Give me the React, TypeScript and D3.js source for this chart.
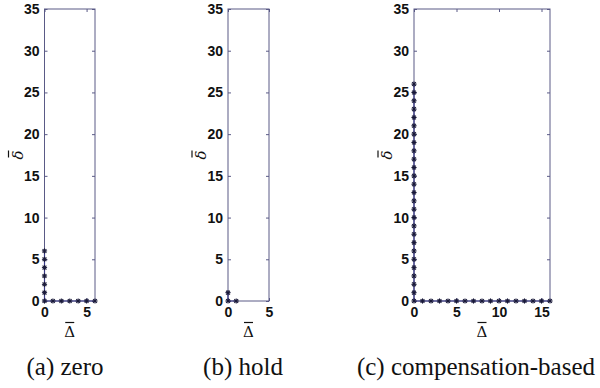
import React, { useEffect, useRef } from 'react';
import * as d3 from 'd3';

// path points for each scheme (Delta-bar, delta-bar)
const zeroX = [0, 0, 0, 0, 0, 0, 0, 1, 2, 3, 4, 5, 6];
const zeroY = [6, 5, 4, 3, 2, 1, 0, 0, 0, 0, 0, 0, 0];

const holdX = [0, 0, 1];
const holdY = [1, 0, 0];

const compX = [0, 0, 0, 0, 0, 0, 0, 0, 0, 0, 0, 0, 0, 0, 0, 0, 0, 0, 0, 0, 0, 0, 0, 0, 0, 0, 0,
  1, 2, 3, 4, 5, 6, 7, 8, 9, 10, 11, 12, 13, 14, 15, 16];
const compY = [26, 25, 24, 23, 22, 21, 20, 19, 18, 17, 16, 15, 14, 13, 12, 11, 10, 9, 8, 7, 6, 5, 4, 3, 2, 1, 0,
  0, 0, 0, 0, 0, 0, 0, 0, 0, 0, 0, 0, 0, 0, 0, 0];

const yTicks = [0, 5, 10, 15, 20, 25, 30, 35];
const captions = ['(a) zero', '(b) hold', '(c) compensation-based'];

const panels = [
  { xs: zeroX, ys: zeroY, xMax: 6, xTicks: [0, 5], left: 44.5, right: 95, caption: captions[0], capX: 65 },
  { xs: holdX, ys: holdY, xMax: 5, xTicks: [0, 5], left: 228, right: 269, caption: captions[1], capX: 243 },
  { xs: compX, ys: compY, xMax: 16, xTicks: [0, 5, 10, 15], left: 414, right: 550, caption: captions[2], capX: 476 },
];

export default function App() {
  const svgRef = useRef<SVGSVGElement>(null);

  useEffect(() => {
    const svg = d3.select(svgRef.current);
    svg.selectAll('*').remove();

    const top = 9, bottom = 301;
    const boxColor = '#5a5a86';
    const lineColor = '#3a3a88';
    const y = d3.scaleLinear().domain([0, 35]).range([bottom, top]);

    panels.forEach(p => {
      const x = d3.scaleLinear().domain([0, p.xMax]).range([p.left, p.right]);
      const g = svg.append('g');

      g.append('rect')
        .attr('x', p.left).attr('y', top)
        .attr('width', p.right - p.left).attr('height', bottom - top)
        .attr('fill', 'none').attr('stroke', boxColor).attr('stroke-width', 1);

      const styleAxis = (sel: any, labels: boolean) => {
        sel.select('.domain').remove();
        sel.selectAll('line').attr('stroke', boxColor);
        if (!labels) sel.selectAll('text').remove();
        else sel.selectAll('text')
          .attr('fill', '#111')
          .style('font-family', '"Liberation Sans", Arial, sans-serif')
          .style('font-weight', 'bold')
          .style('font-size', '14px');
      };

      g.append('g').attr('transform', `translate(${p.left},0)`)
        .call(d3.axisLeft(y).tickValues(yTicks).tickSize(-3).tickPadding(5).tickFormat(d3.format('d')))
        .call(s => styleAxis(s, true));
      g.append('g').attr('transform', `translate(${p.right},0)`)
        .call(d3.axisRight(y).tickValues(yTicks).tickSize(-3))
        .call(s => styleAxis(s, false));
      g.append('g').attr('transform', `translate(0,${bottom})`)
        .call(d3.axisBottom(x).tickValues(p.xTicks).tickSize(-3).tickPadding(6).tickFormat(d3.format('d')))
        .call(s => styleAxis(s, true));
      g.append('g').attr('transform', `translate(0,${top})`)
        .call(d3.axisTop(x).tickValues(p.xTicks).tickSize(-3))
        .call(s => styleAxis(s, false));

      const pts = p.xs.map((v, i) => [v, p.ys[i]] as [number, number]);
      const line = d3.line<[number, number]>().x(d => x(d[0])).y(d => y(d[1]));
      g.append('path').attr('d', line(pts)).attr('fill', 'none')
        .attr('stroke', lineColor).attr('stroke-width', 1.2);

      // matlab-style '*' markers
      const r = 2.6, rd = 1.9;
      const mk = g.selectAll('g.mk').data(pts).enter().append('g')
        .attr('transform', d => `translate(${x(d[0])},${y(d[1])})`)
        .attr('stroke', '#1a1a3a').attr('stroke-width', 1.1);
      mk.append('line').attr('x1', -r).attr('x2', r);
      mk.append('line').attr('y1', -r).attr('y2', r);
      mk.append('line').attr('x1', -rd).attr('y1', -rd).attr('x2', rd).attr('y2', rd);
      mk.append('line').attr('x1', -rd).attr('y1', rd).attr('x2', rd).attr('y2', -rd);

      // x label: Delta with bar
      const cx = (p.left + p.right) / 2;
      const xl = g.append('g').attr('transform', `translate(${cx},337)`);
      xl.append('text').attr('text-anchor', 'middle')
        .style('font-family', '"DejaVu Serif", serif').style('font-size', '15px')
        .attr('fill', '#111').text('\u0394');
      xl.append('line').attr('x1', -4.5).attr('x2', 4.5).attr('y1', -14.5).attr('y2', -14.5)
        .attr('stroke', '#111').attr('stroke-width', 1.2);

      // y label: delta with bar, rotated
      const yl = g.append('g')
        .attr('transform', `translate(${p.left - 22},${(top + bottom) / 2}) rotate(-90)`);
      yl.append('text').attr('text-anchor', 'middle')
        .style('font-family', '"DejaVu Serif", serif').style('font-style', 'italic').style('font-size', '15px')
        .attr('fill', '#111').text('\u03b4');
      yl.append('line').attr('x1', -2.5).attr('x2', 4.5).attr('y1', -14).attr('y2', -14)
        .attr('stroke', '#111').attr('stroke-width', 1.2);

      g.append('text').attr('x', p.capX).attr('y', 375)
        .attr('text-anchor', 'middle')
        .style('font-family', '"Liberation Serif", serif').style('font-size', '25px')
        .attr('fill', '#111').text(p.caption);
    });
  }, []);

  return (
    <svg ref={svgRef} width={600} height={388}
      style={{ position: 'absolute', left: 0, top: 0, background: '#fff' }} />
  );
}
